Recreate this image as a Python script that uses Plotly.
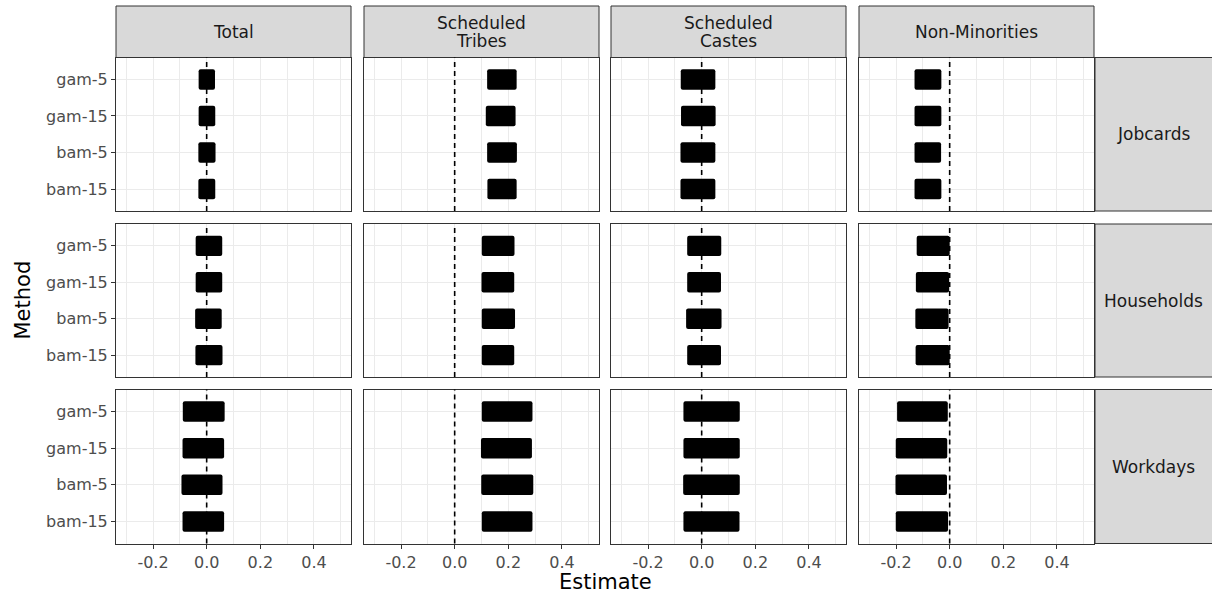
import plotly.graph_objects as go
from plotly.subplots import make_subplots

# ---------------- data ----------------
methods = ["gam-5", "gam-15", "bam-5", "bam-15"]
groups = ["Total", "Scheduled\nTribes", "Scheduled\nCastes", "Non-Minorities"]
outcomes = ["Jobcards", "Households", "Workdays"]

# [group][method]
jobcards_lower = [[-0.030, -0.030, -0.031, -0.031],
                  [0.121, 0.116, 0.121, 0.122],
                  [-0.078, -0.077, -0.079, -0.079],
                  [-0.131, -0.131, -0.131, -0.131]]
jobcards_upper = [[0.031, 0.032, 0.033, 0.032],
                  [0.231, 0.227, 0.232, 0.231],
                  [0.051, 0.052, 0.051, 0.051],
                  [-0.031, -0.031, -0.032, -0.031]]

households_lower = [[-0.041, -0.041, -0.043, -0.042],
                    [0.101, 0.100, 0.101, 0.101],
                    [-0.054, -0.054, -0.058, -0.054],
                    [-0.123, -0.126, -0.128, -0.127]]
households_upper = [[0.058, 0.058, 0.056, 0.059],
                    [0.223, 0.222, 0.225, 0.222],
                    [0.073, 0.072, 0.074, 0.072],
                    [0.000, -0.002, -0.004, 0.000]]

workdays_lower = [[-0.089, -0.090, -0.094, -0.090],
                  [0.101, 0.098, 0.099, 0.101],
                  [-0.068, -0.068, -0.069, -0.068],
                  [-0.196, -0.201, -0.202, -0.201]]
workdays_upper = [[0.067, 0.065, 0.059, 0.065],
                  [0.290, 0.288, 0.293, 0.290],
                  [0.142, 0.142, 0.142, 0.141],
                  [-0.007, -0.009, -0.010, -0.006]]

x_tickvals = [-0.2, 0.0, 0.2, 0.4]
x_ticktext = ["-0.2", "0.0", "0.2", "0.4"]
x_minor = [-0.3, -0.1, 0.1, 0.3, 0.5]
ref_line = 0.0

lowers = [jobcards_lower, households_lower, workdays_lower]
uppers = [jobcards_upper, households_upper, workdays_upper]

# ---------------- layout geometry (pixels) ----------------
W, H = 1212, 596
col_px = [(116, 351), (364, 599), (611, 846), (859, 1094)]
row_px = [(57.5, 211), (224, 377), (389.5, 543.5)]
top_strip_px = (6, 57.5)
right_strip_px = (1095, 1212)

FONT = "DejaVu Sans"
TICK_SIZE = 16
STRIP_SIZE = 17
TITLE_SIZE = 21

fig = make_subplots(rows=3, cols=4)

for r in range(3):
    for c in range(4):
        idx = r * 4 + c + 1
        lo = lowers[r][c]
        up = uppers[r][c]
        fig.add_trace(go.Bar(
            y=methods, x=[u - l for u, l in zip(up, lo)], base=lo,
            orientation="h", width=0.56,
            marker=dict(color="black", line=dict(width=0)),
            showlegend=False, hoverinfo="skip"), row=r + 1, col=c + 1)
        xs = "" if idx == 1 else str(idx)
        fig.add_shape(type="line", xref="x" + xs, yref="y" + xs + " domain",
                      x0=ref_line, x1=ref_line, y0=0, y1=1,
                      line=dict(color="black", width=1.6, dash="5px,4px"),
                      layer="above")
        x0, x1 = col_px[c]
        y0, y1 = row_px[r]
        fig.update_layout({
            "xaxis" + xs: dict(
                domain=[x0 / W, x1 / W], range=[-0.338, 0.538],
                tickvals=x_tickvals, ticktext=x_ticktext,
                showticklabels=(r == 2), ticks="outside" if r == 2 else "",
                ticklen=4, tickwidth=1, tickcolor="#333333",
                tickfont=dict(family=FONT, size=TICK_SIZE, color="#4d4d4d"),
                showgrid=True, gridcolor="#ebebeb", gridwidth=1.1,
                minor=dict(tickvals=x_minor, showgrid=True, gridcolor="#ebebeb",
                           gridwidth=0.6, ticks=""),
                showline=True, linecolor="#333333", linewidth=1, mirror=True,
                zeroline=False, fixedrange=True),
            "yaxis" + xs: dict(
                domain=[1 - y1 / H, 1 - y0 / H],
                type="category", categoryorder="array", categoryarray=methods,
                range=[3.6, -0.6],
                showticklabels=(c == 0), ticks="outside" if c == 0 else "",
                ticklen=4, tickwidth=1, tickcolor="#333333",
                tickfont=dict(family=FONT, size=TICK_SIZE, color="#4d4d4d"),
                showgrid=True, gridcolor="#ebebeb", gridwidth=1.1,
                showline=True, linecolor="#333333", linewidth=1, mirror=True,
                zeroline=False, fixedrange=True),
        })

annotations = []
shapes = []
# top strips
for c, g in enumerate(groups):
    x0, x1 = col_px[c]
    shapes.append(dict(type="rect", xref="paper", yref="paper",
                       x0=x0 / W, x1=x1 / W,
                       y0=1 - top_strip_px[1] / H, y1=1 - top_strip_px[0] / H,
                       fillcolor="#d9d9d9", line=dict(color="#333333", width=1),
                       layer="below"))
    lines = g.split("\n")
    n = len(lines)
    yc = 1 - (top_strip_px[0] + top_strip_px[1]) / 2 / H
    for i, ln in enumerate(lines):
        annotations.append(dict(text=ln, xref="paper", yref="paper",
                                x=(x0 + x1) / 2 / W, y=yc,
                                yshift=((n - 1) / 2 - i) * 18,
                                showarrow=False, xanchor="center", yanchor="middle",
                                font=dict(family=FONT, size=STRIP_SIZE, color="#1a1a1a")))
# right strips
for r, o in enumerate(outcomes):
    y0, y1 = row_px[r]
    shapes.append(dict(type="rect", xref="paper", yref="paper",
                       x0=right_strip_px[0] / W, x1=right_strip_px[1] / W + 0.01,
                       y0=1 - y1 / H, y1=1 - y0 / H,
                       fillcolor="#d9d9d9", line=dict(color="#333333", width=1),
                       layer="below"))
    annotations.append(dict(text=o, xref="paper", yref="paper",
                            x=(right_strip_px[0] + right_strip_px[1]) / 2 / W,
                            y=1 - (y0 + y1) / 2 / H,
                            showarrow=False, xanchor="center", yanchor="middle",
                            font=dict(family=FONT, size=STRIP_SIZE, color="#1a1a1a")))
# axis titles
annotations.append(dict(text="Estimate", xref="paper", yref="paper",
                        x=(col_px[0][0] + col_px[3][1]) / 2 / W, y=1 - 582 / H,
                        showarrow=False, xanchor="center", yanchor="middle",
                        font=dict(family=FONT, size=TITLE_SIZE, color="black")))
annotations.append(dict(text="Method", xref="paper", yref="paper",
                        x=22 / W, y=1 - (row_px[0][0] + row_px[2][1]) / 2 / H,
                        textangle=-90,
                        showarrow=False, xanchor="center", yanchor="middle",
                        font=dict(family=FONT, size=TITLE_SIZE, color="black")))

fig.update_layout(
    width=W, height=H,
    margin=dict(l=0, r=0, t=0, b=0),
    paper_bgcolor="white", plot_bgcolor="white",
    barcornerradius=2,
    shapes=list(fig.layout.shapes) + shapes,
    annotations=annotations,
    showlegend=False,
)

fig.write_html("out.html", config={"displayModeBar": False})
